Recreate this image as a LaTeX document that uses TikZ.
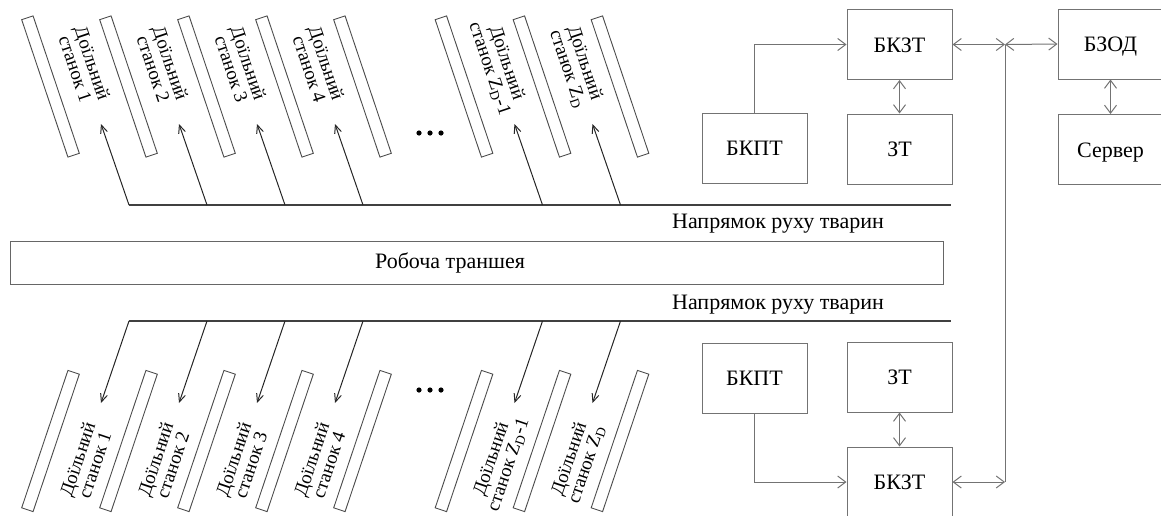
\documentclass[tikz,border=0pt]{standalone}
\usepackage{fontspec}
\setmainfont{Liberation Serif}
\usetikzlibrary{arrows.meta}
\newcommand*\stalltilt{71.4}
\newcommand*\stalllen {145pt}
\tikzset{
    block/.style    = {draw=black!55, line width=1pt,
                      minimum width=105pt, minimum height=70pt, inner sep=0pt,
                      text height=15pt, text depth=0pt,
                      font=\fontsize{22}{24}\selectfont},
    stall/.style    = {draw=black!70, line width=0.9pt,
                      minimum width=\stalllen, minimum height=12pt, inner sep=0pt},
    stalltext/.style= {align=center, inner sep=0pt,
                      font=\fontsize{19}{18}\selectfont},
    trench/.style   = {draw=black!60, line width=1pt,
                      minimum width=933pt, minimum height=43pt, inner sep=0pt},
    caption/.style  = {inner sep=0pt, font=\fontsize{22}{24}\selectfont},
    track/.style    = {draw=black!75, line width=1.1pt},
    feed/.style     = {draw=black!85, line width=1pt,
                      -{Straight Barb[length=8pt,width=7pt]}},
    link/.style     = {draw=black!55, line width=1pt},
    onearrow/.style = {link, -{Straight Barb[length=8pt,width=12pt]}},
    biarrow/.style  = {link, {Straight Barb[length=8pt,width=12pt]}-{Straight Barb[length=8pt,width=12pt]}},
  }
\begin{document}
\begin{tikzpicture}[x=1pt,y=-1pt]
      \clip (0,0) rectangle (1161,515);

      % stall partitions, upper and lower rows
      \foreach \c [count=\i from 1] in {50.5,128.5,206.5,284.5,362.5,464,542,620} {
        \node[stall,rotate=-\stalltilt] (su\i) at (\c,86.5) {};
        \node[stall,rotate=\stalltilt]  (sl\i) at (\c,441) {};
      }

      % stall names
      \foreach \c/\n [count=\i from 1] in {84/1,162/2,240/3,318/4,498/Z\textsubscript{D}-1,576/Z\textsubscript{D}} {
        \node[stalltext,rotate=-\stalltilt] (lu\i) at (\c,66) {Доїльний\\станок \n};
        \node[stalltext,rotate=\stalltilt]  (ll\i) at (\c+2,462) {Доїльний\\станок \n};
      }

      % dots between stall 4 and stall Z_D-1
      \foreach \x in {419,430,441} {
        \fill (\x,133) circle (2.6pt);
        \fill (\x,390) circle (2.6pt);
      }

      % working trench and the two animal tracks
      \node[trench] (trench) at (476.5,262.5) {};
      \node[caption] (trenchname) at (450,263) {Робоча траншея};
      \draw[track] (129,205) coordinate (tw) -- (951,205) coordinate (te);
      \draw[track] (129,321) coordinate (bw) -- (951,321) coordinate (be);
      \node[caption,anchor=base] (dirup) at (778,228) {Напрямок руху тварин};
      \node[caption,anchor=base] (dirdn) at (778,309) {Напрямок руху тварин};

      % animals turn off the tracks into the stalls
      \foreach \c [count=\i from 1] in {128.5,206.5,284.5,362.5,542,620} {
        \coordinate (fu\i) at (\c+0.5,205);
        \coordinate (tu\i) at (\c-27.5,124);
        \coordinate (fd\i) at (\c+0.5,321);
        \coordinate (td\i) at (\c-27.5,403);
        \draw[feed] (fu\i) -- (tu\i);
        \draw[feed] (fd\i) -- (td\i);
      }

      % control blocks
      \node[block] (bkzt1) at (899.5,44.5)  {БКЗТ};
      \node[block] (bkpt1) at (754.5,148)   {БКПТ};
      \node[block] (zt1)   at (899.5,149)   {ЗТ};
      \node[block] (bzod)  at (1110.5,44)   {БЗОД};
      \node[block] (server) at (1110.5,149.5) {Сервер};
      \node[block] (bkpt2) at (754.5,378)   {БКПТ};
      \node[block] (zt2)   at (899.5,377)   {ЗТ};
      \node[block] (bkzt2) at (899.5,482)   {БКЗТ};

      \coordinate (jt) at (1005,44.5);
      \coordinate (jb) at (1005,482);

      \draw[onearrow] (bkpt1.north) |- (bkzt1.west);
      \draw[biarrow]  (bkzt1.south) -- (zt1.north);
      \draw[biarrow]  (bkzt1.east) -- (jt);
      \draw[biarrow]  (jt) -- (bzod.west);
      \draw[biarrow]  (bzod.south) -- (server.north);
      \draw[link]     (jt) -- (jb);
      \draw[onearrow] (bkpt2.south) |- (bkzt2.west);
      \draw[biarrow]  (zt2.south) -- (bkzt2.north);
      \draw[biarrow]  (bkzt2.east) -- (jb);
    \end{tikzpicture}
\end{document}
